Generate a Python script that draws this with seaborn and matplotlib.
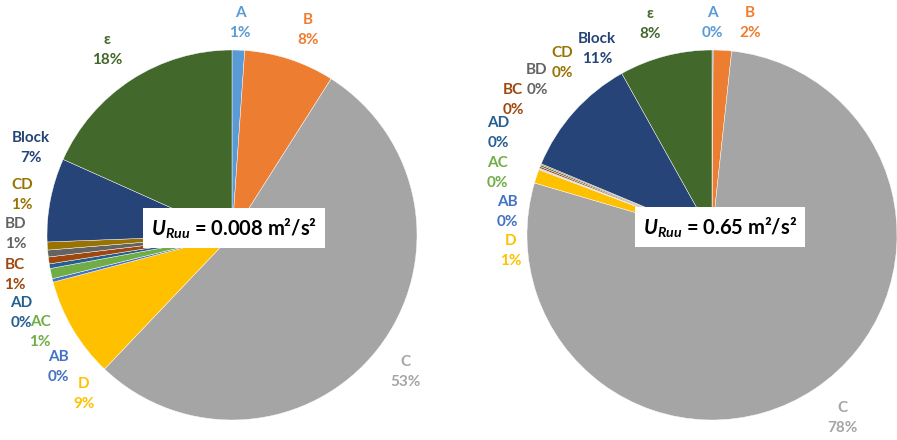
import matplotlib
matplotlib.use("Agg")
import matplotlib.pyplot as plt
import seaborn as sns

sns.set_theme(style="white")
plt.rcParams["font.family"] = ["Lato", "DejaVu Sans"]
plt.rcParams["mathtext.fontset"] = "custom"
plt.rcParams["mathtext.bfit"] = "Lato:italic:bold"
plt.rcParams["mathtext.it"] = "Lato:italic"
plt.rcParams["mathtext.bf"] = "Lato:bold"
plt.rcParams["mathtext.rm"] = "Lato"

# Contribution of each term to the velocity variance, in percent
terms = ["A", "B", "C", "D", "AB", "AC", "AD", "BC", "BD", "CD", "Block", "ε"]
share_low = [1.1, 7.9, 53.1, 8.8, 0.3, 0.9, 0.4, 0.6, 0.6, 0.7, 7.3, 18.3]
share_high = [0.1, 1.6, 77.8, 1.2, 0.05, 0.05, 0.05, 0.15, 0.15, 0.1, 10.6, 8.1]
titles = [r"$\mathbfit{U}_{\mathbfit{Ruu}}$ = 0.008 m²/s²",
          r"$\mathbfit{U}_{\mathbfit{Ruu}}$ = 0.65 m²/s²"]

colors = ["#5B9BD5", "#ED7D31", "#A5A5A5", "#FFC000", "#4472C4", "#70AD47",
          "#255E91", "#9E480E", "#636363", "#997300", "#264478", "#43682B"]

W, H = 897, 440
R = 185  # pie radius in pixels

# Label anchor points (pixels) for each pie, in the order of `terms`
label_px_low = [(240, 23), (308, 30), (405, 372), (84, 394), (58, 367), (40, 332),
                (21, 313), (15, 275), (16, 234), (22, 195), (31, 148), (107, 50)]
label_px_high = [(712, 23), (750, 23), (842, 418), (511, 251), (507, 212), (497, 173),
                 (498, 133), (513, 100), (537, 80), (562, 63), (597, 49), (650, 24)]

pies = [
    dict(values=share_low, center=(232, 235), labels=label_px_low,
         title=titles[0], title_px=(234, 228)),
    dict(values=share_high, center=(712, 235), labels=label_px_high,
         title=titles[1], title_px=(720, 227)),
]

fig = plt.figure(figsize=(W / 100, H / 100), dpi=100)

for p in pies:
    cx, cy = p["center"]
    ax = fig.add_axes([(cx - R) / W, (H - cy - R) / H, 2 * R / W, 2 * R / H])
    ax.pie(p["values"], colors=colors, startangle=90, counterclock=False,
           radius=1.0, wedgeprops=dict(linewidth=0.3, edgecolor="white"))
    ax.set_xlim(-1, 1)
    ax.set_ylim(-1, 1)
    ax.set_aspect("equal")
    ax.axis("off")

    total = sum(p["values"])
    for name, v, col, (px, py) in zip(terms, p["values"], colors, p["labels"]):
        pct = v / total * 100
        ax.text((px - cx) / R, (cy - py) / R, f"{name}\n{pct:.0f}%",
                ha="center", va="center", color=col, fontsize=11,
                fontweight="bold", linespacing=1.55, clip_on=False)

    tx, ty = p["title_px"]
    ax.text((tx - cx) / R, (cy - ty) / R, p["title"], ha="center", va="center",
            fontsize=14.5, fontweight="bold", color="black",
            bbox=dict(facecolor="white", edgecolor="none", pad=6))

fig.savefig("out.png", dpi=100)
